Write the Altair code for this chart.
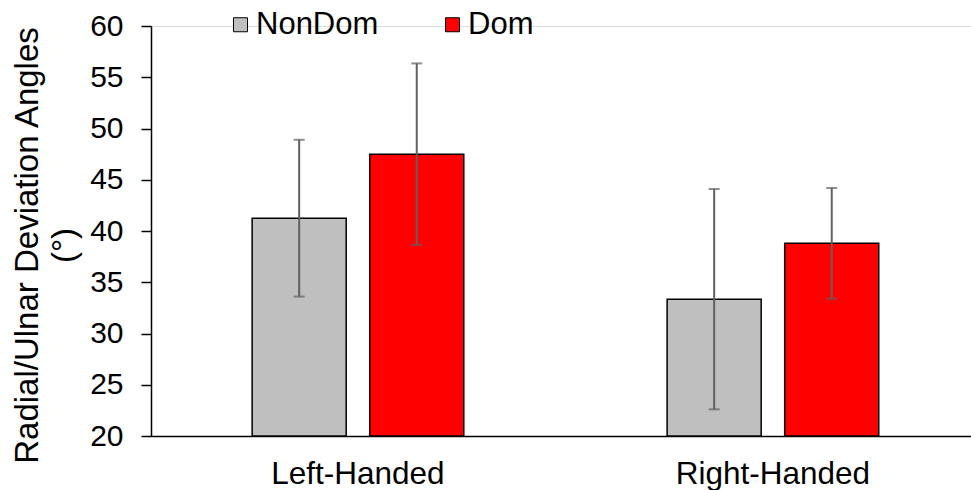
import altair as alt
import pandas as pd

groups = ["Left-Handed", "Left-Handed", "Right-Handed", "Right-Handed"]
series = ["NonDom", "Dom", "NonDom", "Dom"]
means = [41.25, 47.5, 33.35, 38.8]
errs = [7.65, 8.85, 10.75, 5.4]

order = ["NonDom", "Dom"]
colors = ["#BFBFBF", "#FF0000"]
y_ticks = [20, 25, 30, 35, 40, 45, 50, 55, 60]
y_title = ["Radial/Ulnar Deviation Angles", "(°)"]

df = pd.DataFrame({"group": groups, "series": series, "mean": means, "err": errs})
df["lo"] = df["mean"] - df["err"]
df["hi"] = df["mean"] + df["err"]

FONT = "Liberation Sans"

x = alt.X(
    "group:N",
    title=None,
    scale=alt.Scale(paddingInner=0.49, paddingOuter=0.233, align=0.523),
    axis=alt.Axis(
        labelAngle=0, ticks=False, domainColor="black", domainWidth=1.5,
        labelFontSize=31.5, labelColor="black", labelFont=FONT, labelPadding=22,
        labelLimit=500,
    ),
)
xo = alt.XOffset("series:N", sort=order, scale=alt.Scale(domain=order, paddingInner=0.2, paddingOuter=0))

y = alt.Y(
    "mean:Q",
    title=y_title,
    scale=alt.Scale(domain=[20, 60], zero=False, nice=False),
    axis=alt.Axis(
        values=y_ticks, grid=False, tickSize=10, tickColor="black", tickWidth=1.5,
        domainColor="black", domainWidth=1.5, labelFontSize=30, labelColor="black",
        labelFont=FONT, labelPadding=18,
        titleFont=FONT, titleFontSize=33, titleFontWeight="normal", titleColor="black",
        titleAngle=270, titleBaseline="top", titleAlign="center",
        titleX=-140, titleY=219, titleLineHeight=37, titleLimit=600,
    ),
)

base = alt.Chart(df)

bars = base.mark_bar(stroke="black", strokeWidth=1.5).encode(
    x=x,
    xOffset=xo,
    y=y,
    y2=alt.datum(20),
    color=alt.Color(
        "series:N", sort=order,
        scale=alt.Scale(domain=order, range=colors),
        legend=alt.Legend(
            title=None, orient="none", legendX=74, legendY=-17, direction="horizontal",
            symbolType="square", symbolSize=196, symbolStrokeColor="black",
            symbolStrokeWidth=1, symbolOpacity=1, labelFontSize=31, labelFont=FONT,
            labelColor="black", labelOffset=0, columnPadding=58, padding=0,
        ),
    ),
)

err_rule = base.mark_rule(color="#606060", strokeWidth=2).encode(
    x=x, xOffset=xo, y=alt.Y("lo:Q"), y2="hi:Q"
)
cap_lo = base.mark_tick(color="#606060", orient="horizontal", size=11, thickness=2).encode(
    x=x, xOffset=xo, y=alt.Y("lo:Q")
)
cap_hi = base.mark_tick(color="#606060", orient="horizontal", size=11, thickness=2).encode(
    x=x, xOffset=xo, y=alt.Y("hi:Q")
)

chart = (
    alt.layer(bars, err_rule, cap_lo, cap_hi)
    .properties(
        width=820, height=410,
        autosize=alt.AutoSizeParams(type="none"),
        padding={"left": 151, "top": 26, "right": 0, "bottom": 54},
    )
    .configure_view(stroke=None)
    .configure(background="white")
)

chart.save("out.html", embed_options={"renderer": "svg", "actions": False})
